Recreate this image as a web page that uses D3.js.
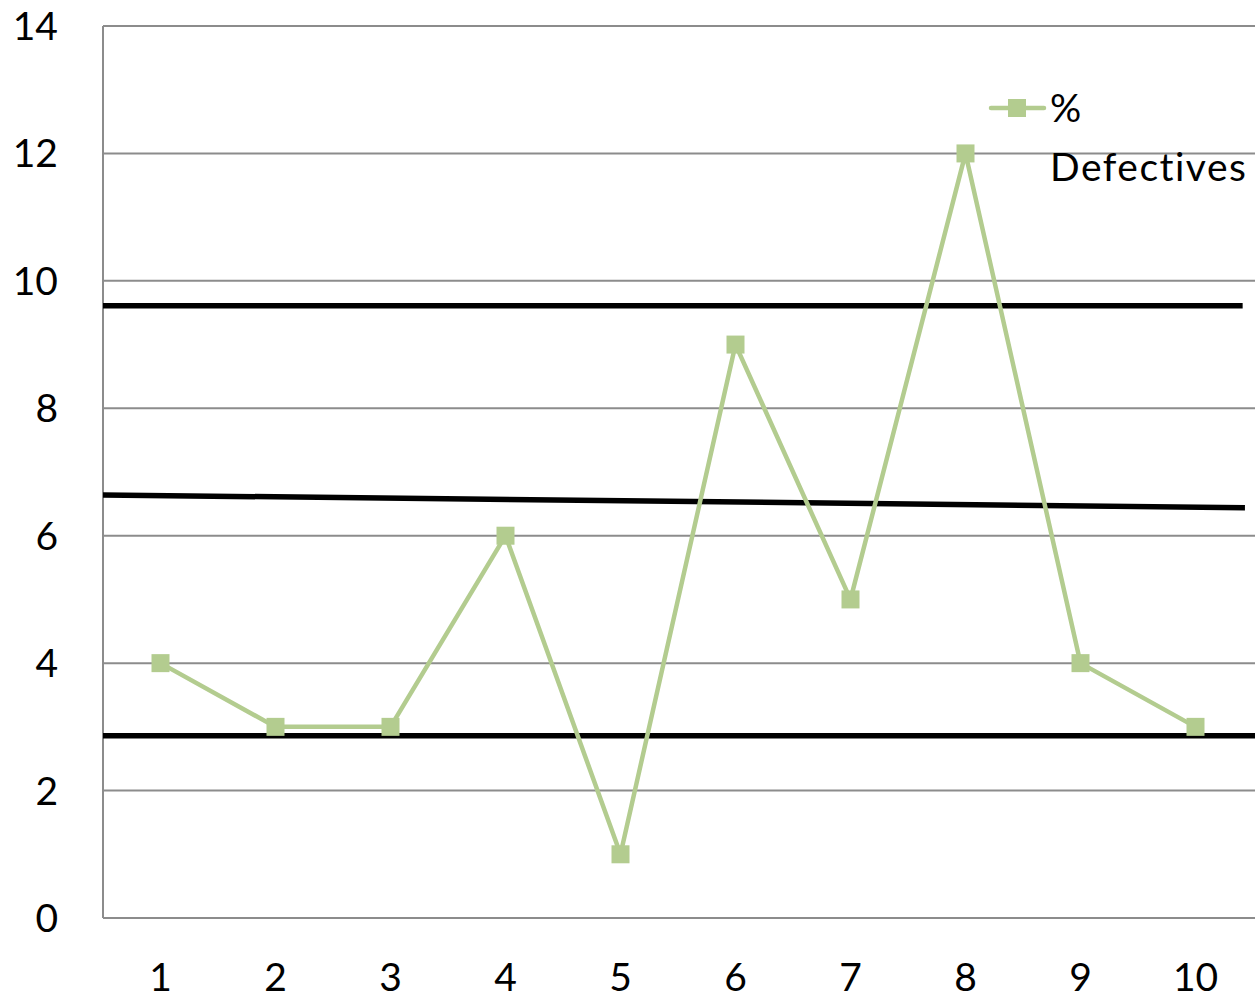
<!DOCTYPE html>
<html>
<head>
<meta charset="utf-8">
<script src="https://cdn.jsdelivr.net/npm/d3@7"></script>
<style>
  html, body { margin: 0; padding: 0; background: #fff; }
  svg { display: block; }
  text { font-family: Lato, "Open Sans", sans-serif; fill: #000; font-variant-ligatures: none; }
</style>
</head>
<body>
<svg id="chart" width="1255" height="1000"></svg>
<script>
// Sample numbers and their percent defectives
const samples = ["1", "2", "3", "4", "5", "6", "7", "8", "9", "10"];
const defectives = [4, 3, 3, 6, 1, 9, 5, 12, 4, 3];
const yTicks = [0, 2, 4, 6, 8, 10, 12, 14];
const seriesName = ["%", "Defectives"];

// Control limits: [start sample pos, start value, end sample pos, end value]
const upperLimit = [0.5, 9.61, 10.41, 9.61];
const centerLine = [0.5, 6.64, 10.43, 6.44];
const lowerLimit = [0.5, 2.86, 10.52, 2.86];

const svg = d3.select("#chart");
const plotLeft = 103, plotRight = 1253, plotTop = 26, plotBottom = 918;

const x = d3.scalePoint().domain(samples).range([plotLeft, plotRight]).padding(0.5);
const xPos = d3.scaleLinear().domain([0.5, samples.length + 0.5]).range([plotLeft, plotRight]);
const y = d3.scaleLinear().domain([0, 14]).range([plotBottom, plotTop]);

// Horizontal gridlines
svg.append("g")
  .selectAll("line")
  .data(yTicks.filter(d => d > 0))
  .join("line")
  .attr("x1", plotLeft).attr("x2", 1255)
  .attr("y1", d => y(d)).attr("y2", d => y(d))
  .attr("stroke", "#8c8c8c").attr("stroke-width", 2);

// Axis lines
svg.append("line").attr("x1", plotLeft).attr("x2", plotLeft).attr("y1", plotTop).attr("y2", plotBottom)
  .attr("stroke", "#8c8c8c").attr("stroke-width", 2);
svg.append("line").attr("x1", plotLeft).attr("x2", 1255).attr("y1", plotBottom).attr("y2", plotBottom)
  .attr("stroke", "#8c8c8c").attr("stroke-width", 2);

// Y tick labels
svg.append("g")
  .selectAll("text")
  .data(yTicks)
  .join("text")
  .attr("x", 58).attr("y", d => y(d))
  .attr("dy", "0.36em")
  .attr("text-anchor", "end")
  .attr("font-size", 39)
  .text(d => d);

// X tick labels
svg.append("g")
  .selectAll("text")
  .data(samples)
  .join("text")
  .attr("x", d => x(d)).attr("y", 991)
  .attr("text-anchor", "middle")
  .attr("font-size", 39)
  .text(d => d);

// Control limit lines
svg.append("g")
  .selectAll("line")
  .data([upperLimit, centerLine, lowerLimit])
  .join("line")
  .attr("x1", d => xPos(d[0])).attr("y1", d => y(d[1]))
  .attr("x2", d => xPos(d[2])).attr("y2", d => y(d[3]))
  .attr("stroke", "#000").attr("stroke-width", 5.5);

// Percent defectives series
const green = "#b3cc8f";
const line = d3.line().x((d, i) => x(samples[i])).y(d => y(d));
svg.append("path")
  .datum(defectives)
  .attr("d", line)
  .attr("fill", "none")
  .attr("stroke", green)
  .attr("stroke-width", 4.5)
  .attr("stroke-linejoin", "round");

const m = 18;
svg.append("g")
  .selectAll("rect")
  .data(defectives)
  .join("rect")
  .attr("x", (d, i) => x(samples[i]) - m / 2)
  .attr("y", d => y(d) - m / 2)
  .attr("width", m).attr("height", m)
  .attr("fill", green);

// Legend
const lg = svg.append("g");
lg.append("line").attr("x1", 991).attr("x2", 1044).attr("y1", 108).attr("y2", 108)
  .attr("stroke", green).attr("stroke-width", 4.5).attr("stroke-linecap", "round");
lg.append("rect").attr("x", 1008).attr("y", 99).attr("width", m).attr("height", m).attr("fill", green);
lg.selectAll("text")
  .data(seriesName)
  .join("text")
  .attr("x", 1050)
  .attr("y", (d, i) => 122 + i * 59)
  .attr("font-size", 39)
  .attr("letter-spacing", 1.5)
  .text(d => d);
</script>
</body>
</html>
